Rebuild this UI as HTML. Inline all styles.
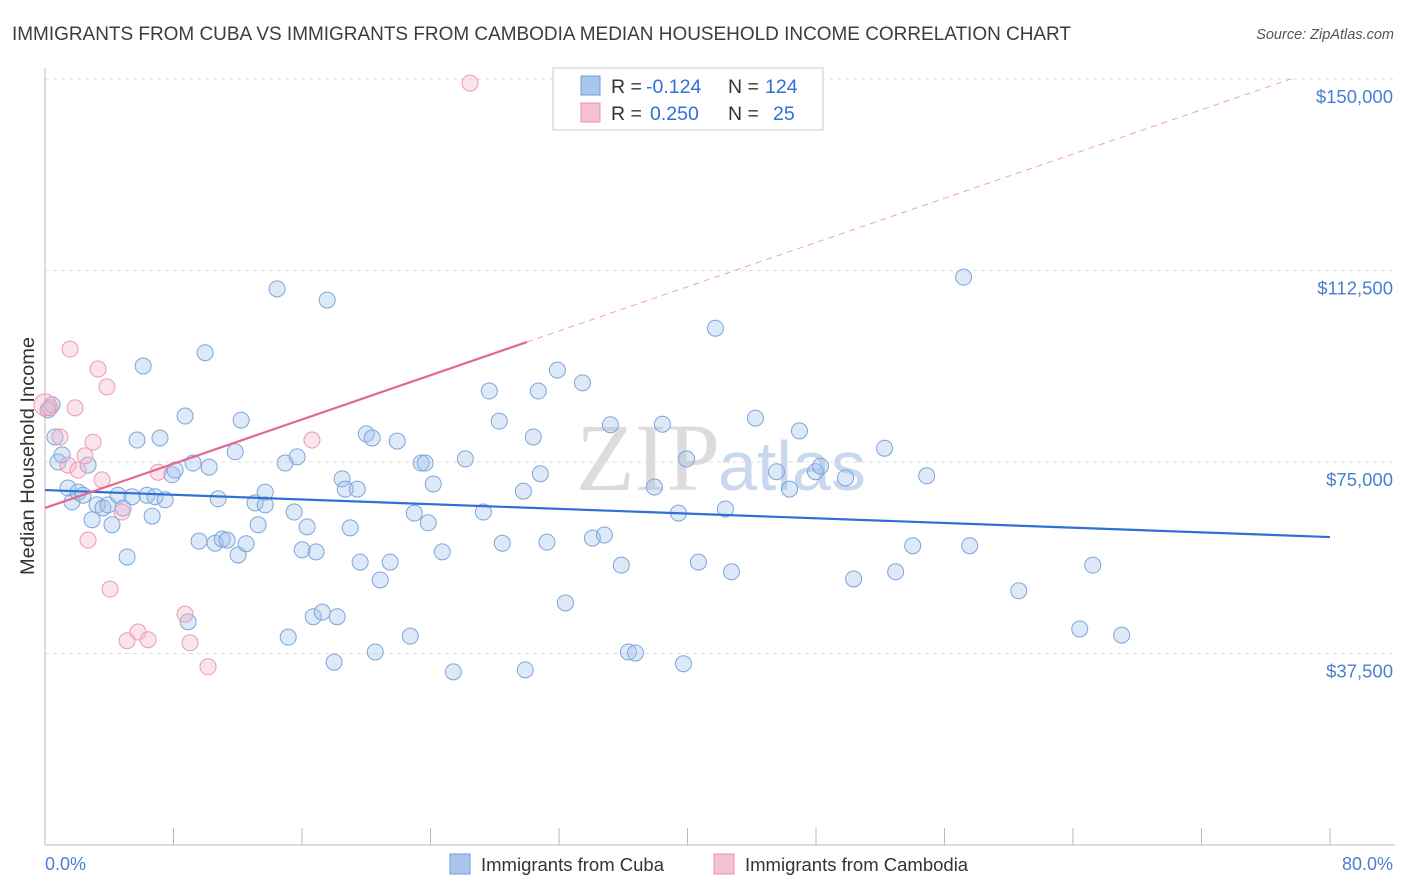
<!DOCTYPE html>
<html><head><meta charset="utf-8"><style>
body{margin:0;background:#fff;font-family:"Liberation Sans",sans-serif;}
svg{display:block}
</style></head><body>
<svg id="chart" width="1406" height="892" xmlns="http://www.w3.org/2000/svg">
<text x="12" y="40" font-size="19.3" fill="#3c3c3c" textLength="1059" lengthAdjust="spacingAndGlyphs">IMMIGRANTS FROM CUBA VS IMMIGRANTS FROM CAMBODIA MEDIAN HOUSEHOLD INCOME CORRELATION CHART</text>
<text x="1394" y="39" font-size="14.5" fill="#555" text-anchor="end" font-style="italic">Source: ZipAtlas.com</text>
<text x="720" y="490" font-size="96" fill="#dcdcdc" text-anchor="end" font-family="Liberation Serif">ZIP</text>
<text x="718" y="490" font-size="70" fill="#c8d8ee">atlas</text>
<g id="grid"></g>
<g id="axes"></g>
<g id="marks"></g>
<g id="trends"></g>
<text transform="translate(34,456) rotate(-90)" font-size="19" fill="#333" text-anchor="middle" textLength="238" lengthAdjust="spacingAndGlyphs">Median Household Income</text>
<text x="45" y="870" font-size="18" fill="#4a7fd0">0.0%</text>
<text x="1393" y="870" font-size="18" fill="#4a7fd0" text-anchor="end">80.0%</text>
<g>
<rect x="553" y="68" width="270" height="62" fill="#fff" stroke="#ccc"/>
<rect x="581" y="76" width="19" height="19" fill="#a9c6ec" stroke="#6f9fd9"/>
<rect x="581" y="103" width="19" height="19" fill="#f6c1d0" stroke="#e891ab"/>
<text x="611" y="93" font-size="19.5" fill="#333">R =</text>
<text x="646" y="93" font-size="19.5" fill="#2f6fd6">-0.124</text>
<text x="728" y="93" font-size="19.5" fill="#333">N =</text>
<text x="765" y="93" font-size="19.5" fill="#2f6fd6">124</text>
<text x="611" y="120" font-size="19.5" fill="#333">R =</text>
<text x="650" y="120" font-size="19.5" fill="#2f6fd6">0.250</text>
<text x="728" y="120" font-size="19.5" fill="#333">N =</text>
<text x="773" y="120" font-size="19.5" fill="#2f6fd6">25</text>
</g>
<g>
<rect x="450" y="854" width="20" height="20" fill="#a9c6ec" stroke="#6f9fd9"/>
<text x="481" y="871" font-size="18.5" fill="#333">Immigrants from Cuba</text>
<rect x="714" y="854" width="20" height="20" fill="#f6c1d0" stroke="#e891ab"/>
<text x="745" y="871" font-size="18.5" fill="#333">Immigrants from Cambodia</text>
</g>
</svg>
<script>
const yTicks=[37500,75000,112500,150000];
const yTickLabels=["$37,500","$75,000","$112,500","$150,000"];
const xTicks=[0,8,16,24,32,40,48,56,64,72,80];
const cubaX=[0.44,0.19,0.62,0.81,1.06,1.43,1.68,2.06,2.37,2.68,2.93,3.24,3.61,3.92,4.17,4.55,4.86,5.11,5.42,5.73,6.11,6.35,6.67,6.85,7.16,7.48,7.91,8.10,8.72,8.91,9.22,9.59,9.97,10.22,10.59,10.78,11.03,11.34,11.84,12.02,12.21,12.52,13.08,13.27,13.71,13.71,14.45,14.95,15.14,15.51,15.70,16.01,16.32,16.88,16.70,17.26,17.57,18.00,18.19,18.50,18.69,19.00,19.44,19.62,20.00,20.37,20.56,20.87,21.49,21.93,22.74,22.99,23.42,23.67,23.86,24.17,24.73,25.42,26.17,27.29,27.66,28.28,28.47,29.78,29.90,30.40,30.71,30.84,31.25,31.90,32.40,33.46,34.08,34.83,35.20,35.88,36.32,36.76,37.94,38.44,39.44,39.75,39.94,40.68,41.74,42.36,42.74,44.23,45.54,46.35,46.97,47.97,48.28,49.84,50.34,52.27,52.96,54.02,54.89,57.19,57.57,60.62,64.42,65.23,67.03];
const cubaY=[86.2,85.2,79.9,75.0,76.4,69.9,67.2,69.1,68.5,74.4,63.7,66.6,66.0,66.6,62.7,68.5,66.0,56.4,68.2,79.3,93.8,68.5,64.4,68.2,79.7,67.6,72.5,73.4,84.0,43.7,74.8,59.5,96.4,74.0,59.1,67.8,59.9,59.7,77.0,56.8,83.2,59.0,67.0,62.7,69.1,66.6,108.9,74.8,40.7,65.2,76.0,57.8,62.3,57.4,44.7,45.6,106.7,35.8,44.7,71.7,69.7,62.1,69.7,55.4,80.5,79.7,37.8,51.9,55.4,79.1,40.9,65.0,74.8,74.8,63.1,70.7,57.4,33.9,75.6,65.2,88.9,83.0,59.1,69.3,34.3,79.9,88.9,72.7,59.3,93.0,47.4,90.5,60.1,60.7,82.3,54.8,37.8,37.6,70.1,82.4,65.0,35.5,75.6,55.4,101.2,65.8,53.5,83.6,73.1,69.7,81.1,73.1,74.2,71.9,52.1,77.7,53.5,58.6,72.3,111.2,58.6,49.8,42.3,54.8,41.1];
const cambX=[0,0.31,0.93,1.56,1.87,1.43,2.06,2.49,2.68,2.99,3.30,3.55,3.86,4.05,4.80,5.11,5.79,6.42,7.04,8.72,9.03,10.15,16.62,26.46];
const cambY=[86.2,85.6,79.9,97.1,85.6,74.4,73.4,76.2,59.7,78.9,93.2,71.5,89.7,50.1,65.2,40.0,41.7,40.2,73.0,45.2,39.6,34.9,79.3,149.2];
const cubaTrend=[69.5,60.3];
const cambTrend=[66.0,1.083];
const NS="http://www.w3.org/2000/svg";
function sx(v){return 45+v/80*1285;}
function sy(k){return 79+(150-k)/37.5*191.5;}
function mk(tag,attrs,parent){const e=document.createElementNS(NS,tag);for(const k in attrs)e.setAttribute(k,attrs[k]);document.getElementById(parent).appendChild(e);return e;}
yTicks.forEach((t,i)=>{
 const y=sy(t/1000);
 const l=mk('line',{x1:45,x2:1395,y1:y,y2:y,stroke:'#ddd','stroke-dasharray':'4,4'},'grid');
 
 
 const tx=mk('text',{x:1393,y:y+24,'font-size':18.5,fill:'#4a7fd0','text-anchor':'end'},'grid');
 tx.textContent=yTickLabels[i];
 
 
});
const ax=mk('line',{x1:45,x2:45,y1:68,y2:845,stroke:'#bbb'},'axes');


const bx=mk('line',{x1:45,x2:1395,y1:845,y2:845,stroke:'#bbb'},'axes');


xTicks.forEach(t=>{
 const x=sx(t);
 const l=mk('line',{x1:x,x2:x,y1:828,y2:845,stroke:'#bbb'},'axes');
 
 
});
cubaX.forEach((v,i)=>{
 const c=mk('circle',{cx:sx(v),cy:sy(cubaY[i]),r:8,fill:'rgba(160,192,236,0.35)',stroke:'#7aa6dc','stroke-width':1},'marks');
 
 
});
cambX.forEach((v,i)=>{
 const c=mk('circle',{cx:sx(v),cy:sy(cambY[i]),r:i===0?11:8,fill:'rgba(244,175,198,0.35)',stroke:'#eb9bb4','stroke-width':1},'marks');
 
 
});
const t1=mk('line',{x1:sx(0),y1:sy(cubaTrend[0]),x2:sx(80),y2:sy(cubaTrend[1]),stroke:'#2f6fd6','stroke-width':2.2},'trends');


const xe=30,xd=77.9;
const t2=mk('line',{x1:sx(0),y1:sy(cambTrend[0]),x2:sx(xe),y2:sy(cambTrend[0]+cambTrend[1]*xe),stroke:'#e5668f','stroke-width':2.2},'trends');


const t3=mk('line',{x1:sx(xe),y1:sy(cambTrend[0]+cambTrend[1]*xe),x2:sx(xd),y2:sy(cambTrend[0]+cambTrend[1]*xd),stroke:'#eea0b8','stroke-width':1,'stroke-dasharray':'6,5'},'trends');


</script>
</body></html>
